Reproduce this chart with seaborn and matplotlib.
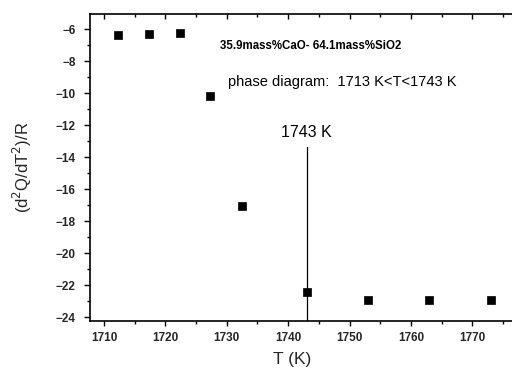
import matplotlib
matplotlib.use("Agg")
import matplotlib.pyplot as plt
from matplotlib.ticker import MultipleLocator
import seaborn as sns
import pandas as pd

# Measured second derivative of Q, divided by R, versus temperature
temperature_K = [1712.3, 1717.3, 1722.3, 1727.3, 1732.5, 1743.1, 1753.0, 1763.0, 1773.0]
d2q_over_r = [-6.36, -6.30, -6.25, -10.17, -17.08, -22.42, -22.96, -22.96, -22.94]

transition_K = 1743
transition_label = "1743 K"
composition_text = "35.9mass%CaO- 64.1mass%SiO2"
phase_text = "phase diagram:  1713 K<T<1743 K"

sns.set_theme(style="ticks")
plt.rcParams["font.family"] = ["Liberation Sans", "DejaVu Sans"]

df = pd.DataFrame({"T": temperature_K, "val": d2q_over_r})

XLIM = (1707.7, 1777.3)
YLIM = (-24.25, -5.05)
rect = [90 / 512, 48 / 369, 427 / 512, 307 / 369]

fig = plt.figure(figsize=(5.12, 3.69), dpi=100)
ax = fig.add_axes(rect)

sns.scatterplot(data=df, x="T", y="val", marker="s", s=30, color="black",
                edgecolor="black", linewidth=0.5, ax=ax, legend=False)

# phase boundary marker
ax.plot([transition_K, transition_K], [YLIM[0], -13.36], color="black", lw=0.9)
ax.text(transition_K, -12.49, transition_label, ha="center", va="center",
        fontsize=11.5, color="black")

ax.text(1728.9, -7.05, composition_text, ha="left", va="center",
        fontsize=8.3, fontweight="bold", color="black")
ax.text(1730.2, -9.3, phase_text, ha="left", va="center",
        fontsize=10.5, color="black")

ax.set_xlim(*XLIM)
ax.set_ylim(*YLIM)
for a in (ax,):
    a.xaxis.set_major_locator(MultipleLocator(10))
    a.xaxis.set_minor_locator(MultipleLocator(5))
    a.yaxis.set_major_locator(MultipleLocator(2))
    a.yaxis.set_minor_locator(MultipleLocator(1))

# outward ticks on bottom/left
ax.tick_params(which="both", color="black", width=1, top=False, right=False)
ax.tick_params(axis="x", which="major", direction="out", length=3.6,
               labelsize=8.5, pad=4.3)
ax.tick_params(axis="y", which="major", direction="out", length=4.5,
               labelsize=8.5, pad=6)
ax.tick_params(which="minor", direction="out", length=2)
for lbl in ax.get_xticklabels() + ax.get_yticklabels():
    lbl.set_fontweight("bold")
for sp in ax.spines.values():
    sp.set_linewidth(1.2)
    sp.set_color("black")

# inward mirrored ticks on top/right
mirror = fig.add_axes(rect, facecolor="none")
mirror.set_xlim(*XLIM)
mirror.set_ylim(*YLIM)
mirror.xaxis.set_major_locator(MultipleLocator(10))
mirror.xaxis.set_minor_locator(MultipleLocator(5))
mirror.yaxis.set_major_locator(MultipleLocator(2))
mirror.yaxis.set_minor_locator(MultipleLocator(1))
mirror.tick_params(which="both", direction="in", color="black", width=1,
                   bottom=False, left=False, top=True, right=True,
                   labelbottom=False, labelleft=False,
                   labeltop=False, labelright=False)
mirror.tick_params(which="major", length=3.5)
mirror.tick_params(which="minor", length=2)
for sp in mirror.spines.values():
    sp.set_visible(False)

ax.set_xlabel("T (K)", fontsize=12.5)
ax.xaxis.set_label_coords(0.473, -0.101)
ax.set_ylabel(r"(d$^2$Q/dT$^2$)/R", fontsize=12)
ax.yaxis.set_label_coords(-0.131, 0.5)

fig.savefig("out.png", dpi=100)
